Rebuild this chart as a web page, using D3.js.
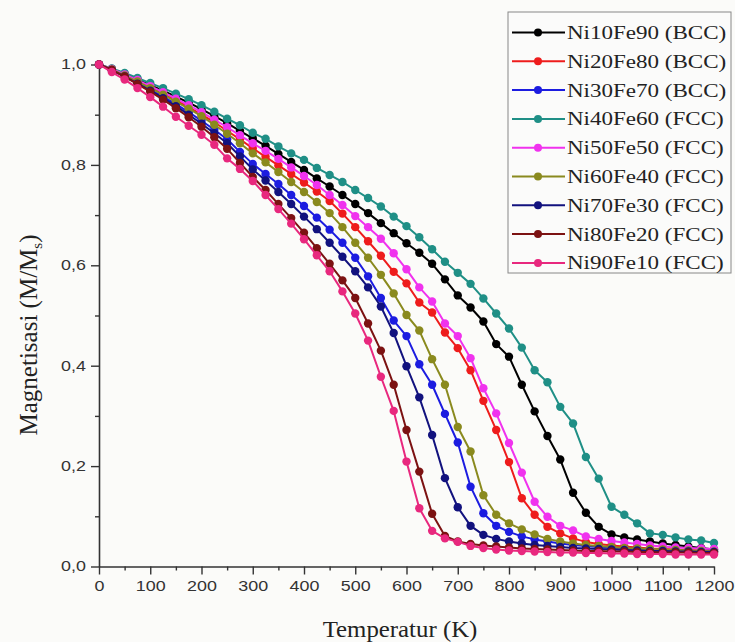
<!DOCTYPE html>
<html>
<head>
<meta charset="utf-8">
<script src="https://cdn.jsdelivr.net/npm/d3@7"></script>
<style>
  html, body { margin: 0; padding: 0; background: #fbfbf9; }
  svg { display: block; }
</style>
</head>
<body>
<svg id="chart" width="735" height="642"></svg>
<script>
// Temperature grid (K)
const temperature = [0,25,50,75,100,125,150,175,200,225,250,275,300,325,350,375,400,425,450,475,500,525,550,575,600,625,650,675,700,725,750,775,800,825,850,875,900,925,950,975,1000,1025,1050,1075,1100,1125,1150,1175,1200];

// Normalised magnetisation M/Ms for each alloy
const ni10fe90 = [1.000,0.991,0.981,0.970,0.959,0.948,0.936,0.924,0.911,0.897,0.883,0.868,0.853,
  0.838,0.822,0.806,0.790,0.773,0.757,0.740,0.722,0.704,0.684,0.664,0.644,
  0.625,0.603,0.572,0.540,0.516,0.488,0.443,0.418,0.362,0.309,0.260,0.213,
  0.147,0.107,0.079,0.064,0.058,0.054,0.050,0.046,0.043,0.040,0.037,0.034];
const ni20fe80 = [1.000,0.990,0.979,0.967,0.955,0.942,0.929,0.915,0.900,0.885,0.868,0.851,0.833,
  0.816,0.799,0.782,0.765,0.747,0.728,0.703,0.676,0.648,0.619,0.587,0.564,
  0.526,0.506,0.466,0.435,0.391,0.330,0.272,0.208,0.136,0.103,0.079,0.066,
  0.056,0.049,0.045,0.042,0.040,0.038,0.036,0.035,0.034,0.033,0.032,0.031];
const ni30fe70 = [1.000,0.989,0.977,0.964,0.950,0.936,0.921,0.905,0.888,0.870,0.851,0.826,0.802,
  0.782,0.762,0.740,0.718,0.695,0.671,0.645,0.615,0.578,0.535,0.490,0.459,
  0.403,0.362,0.304,0.247,0.159,0.106,0.081,0.069,0.060,0.054,0.050,0.046,
  0.043,0.041,0.039,0.037,0.036,0.035,0.034,0.033,0.032,0.031,0.030,0.030];
const ni40fe60 = [1.000,0.992,0.983,0.973,0.963,0.953,0.942,0.931,0.919,0.906,0.892,0.879,0.864,
  0.852,0.837,0.823,0.810,0.794,0.780,0.766,0.750,0.734,0.717,0.697,0.678,
  0.656,0.632,0.607,0.585,0.563,0.534,0.504,0.474,0.436,0.391,0.367,0.318,
  0.285,0.218,0.175,0.119,0.103,0.086,0.066,0.063,0.058,0.054,0.052,0.047];
const ni50fe50 = [1.000,0.991,0.980,0.969,0.957,0.945,0.932,0.919,0.905,0.890,0.875,0.859,0.843,
  0.828,0.812,0.795,0.778,0.760,0.740,0.720,0.698,0.676,0.653,0.624,0.592,
  0.556,0.528,0.484,0.459,0.415,0.355,0.305,0.246,0.187,0.129,0.099,0.081,
  0.072,0.060,0.055,0.051,0.048,0.045,0.042,0.040,0.038,0.037,0.036,0.035];
const ni60fe40 = [1.000,0.990,0.978,0.966,0.953,0.940,0.926,0.912,0.897,0.880,0.862,0.843,0.823,
  0.805,0.786,0.766,0.746,0.726,0.704,0.676,0.645,0.615,0.581,0.544,0.501,
  0.470,0.413,0.362,0.278,0.229,0.142,0.103,0.086,0.074,0.064,0.055,0.050,
  0.046,0.043,0.041,0.039,0.037,0.036,0.035,0.034,0.033,0.032,0.031,0.030];
const ni70fe30 = [1.000,0.989,0.976,0.962,0.948,0.933,0.917,0.900,0.882,0.863,0.843,0.817,0.791,
  0.769,0.746,0.722,0.697,0.672,0.645,0.617,0.588,0.556,0.518,0.465,0.399,
  0.337,0.262,0.176,0.118,0.081,0.063,0.055,0.050,0.046,0.043,0.041,0.039,
  0.037,0.036,0.035,0.034,0.033,0.032,0.031,0.031,0.030,0.030,0.029,0.029];
const ni80fe20 = [1.000,0.989,0.976,0.961,0.946,0.930,0.913,0.895,0.876,0.855,0.832,0.804,0.776,
  0.750,0.722,0.694,0.665,0.634,0.603,0.570,0.535,0.484,0.430,0.362,0.272,
  0.189,0.105,0.061,0.050,0.045,0.042,0.040,0.038,0.036,0.035,0.034,0.033,
  0.032,0.031,0.031,0.030,0.030,0.029,0.029,0.028,0.028,0.028,0.027,0.027];
const ni90fe10 = [1.000,0.985,0.970,0.953,0.935,0.916,0.896,0.878,0.860,0.840,0.813,0.792,0.768,
  0.740,0.712,0.683,0.652,0.620,0.588,0.548,0.504,0.450,0.378,0.310,0.209,
  0.116,0.071,0.056,0.049,0.041,0.037,0.034,0.032,0.031,0.030,0.029,0.028,
  0.028,0.027,0.027,0.026,0.026,0.025,0.025,0.025,0.024,0.024,0.024,0.024];

const seriesLabels = ["Ni10Fe90 (BCC)","Ni20Fe80 (BCC)","Ni30Fe70 (BCC)","Ni40Fe60 (FCC)","Ni50Fe50 (FCC)",
                      "Ni60Fe40 (FCC)","Ni70Fe30 (FCC)","Ni80Fe20 (FCC)","Ni90Fe10 (FCC)"];
const seriesValues = [ni10fe90, ni20fe80, ni30fe70, ni40fe60, ni50fe50, ni60fe40, ni70fe30, ni80fe20, ni90fe10];
const seriesColors = ["#000000","#ee1c1c","#1c1ce0","#1f8f86","#f032ee","#8a8a1e","#12127e","#7c1212","#e8287e"];

const xMajorTicks = [0,100,200,300,400,500,600,700,800,900,1000,1100,1200];
const xMinorTicks = [50,150,250,350,450,550,650,750,850,950,1050,1150];
const yMajorTicks = [0,0.2,0.4,0.6,0.8,1.0];
const yMinorTicks = [0.1,0.3,0.5,0.7,0.9];

const xTitle = "Temperatur (K)";

const svg = d3.select("#chart");
const x = d3.scaleLinear().domain([0, 1200]).range([99, 714]);
const y = d3.scaleLinear().domain([0, 1]).range([566.5, 64.5]);

const axisColor = "#333";
const sansFont = "'Liberation Sans', Arial, sans-serif";
const serifFont = "'Liberation Serif', 'Times New Roman', serif";
const labelStretch = 1.28;

// ---- axes ----
const fmtY = v => d3.format(".1f")(v).replace(".", ",");

const gxMinor = svg.append("g").attr("transform", `translate(0,${y(0)})`)
  .call(d3.axisBottom(x).tickValues(xMinorTicks).tickSize(4).tickFormat(""));
gxMinor.select(".domain").remove();

const gx = svg.append("g").attr("transform", `translate(0,${y(0)})`)
  .call(d3.axisBottom(x).tickValues(xMajorTicks).tickSize(8).tickSizeOuter(0).tickPadding(7).tickFormat(d3.format("d")));

const gyMinor = svg.append("g").attr("transform", `translate(${x(0)},0)`)
  .call(d3.axisLeft(y).tickValues(yMinorTicks).tickSize(4).tickFormat(""));
gyMinor.select(".domain").remove();

const gy = svg.append("g").attr("transform", `translate(${x(0)},0)`)
  .call(d3.axisLeft(y).tickValues(yMajorTicks).tickSize(8).tickSizeOuter(0).tickPadding(5).tickFormat(fmtY));

[gx, gy, gxMinor, gyMinor].forEach(g => {
  g.selectAll("line").attr("stroke", axisColor).attr("stroke-width", 1.4);
  g.selectAll(".domain").attr("stroke", axisColor).attr("stroke-width", 1.6);
});

gx.selectAll("text")
  .attr("font-family", sansFont).attr("font-size", 14).attr("fill", "#333")
  .attr("transform", `scale(${labelStretch},1)`);
gy.selectAll("text")
  .attr("font-family", sansFont).attr("font-size", 14).attr("fill", "#333")
  .attr("x", -13 / labelStretch)
  .attr("transform", `scale(${labelStretch},1)`);

// ---- axis titles ----
svg.append("text")
  .attr("transform", "translate(400,637) scale(1.08,1)")
  .attr("text-anchor", "middle")
  .attr("font-family", serifFont).attr("font-size", 23).attr("fill", "#222")
  .text(xTitle);

const yt = svg.append("text")
  .attr("transform", "translate(37,335) rotate(-90)")
  .attr("text-anchor", "middle")
  .attr("font-family", serifFont).attr("font-size", 25).attr("fill", "#222");
yt.append("tspan").text("Magnetisasi (M/M");
yt.append("tspan").attr("font-size", 15).attr("dy", 5).text("s");
yt.append("tspan").attr("dy", -5).text(")");

// ---- series ----
const line = d3.line().x((d, i) => x(temperature[i])).y(d => y(d));

seriesValues.forEach((vals, k) => {
  const g = svg.append("g");
  g.append("path").datum(vals)
    .attr("d", line).attr("fill", "none")
    .attr("stroke", seriesColors[k]).attr("stroke-width", 2)
    .attr("stroke-linejoin", "round");
  g.selectAll("circle").data(vals).join("circle")
    .attr("cx", (d, i) => x(temperature[i]))
    .attr("cy", d => y(d))
    .attr("r", 4.2)
    .attr("fill", seriesColors[k]);
});

// ---- legend ----
const legend = svg.append("g");
legend.append("rect")
  .attr("x", 508).attr("y", 12).attr("width", 223).attr("height", 261)
  .attr("fill", "#fbfbfa").attr("stroke", "#888").attr("stroke-width", 1);

seriesLabels.forEach((name, k) => {
  const cy = 32.5 + k * 28.8;
  legend.append("line")
    .attr("x1", 512).attr("x2", 565).attr("y1", cy).attr("y2", cy)
    .attr("stroke", seriesColors[k]).attr("stroke-width", 2);
  legend.append("circle")
    .attr("cx", 538).attr("cy", cy).attr("r", 4).attr("fill", seriesColors[k]);
  legend.append("text")
    .attr("transform", `translate(567,${cy + 6.5}) scale(1.28,1)`)
    .attr("font-family", serifFont).attr("font-size", 18).attr("fill", "#222")
    .text(name);
});
</script>
</body>
</html>
